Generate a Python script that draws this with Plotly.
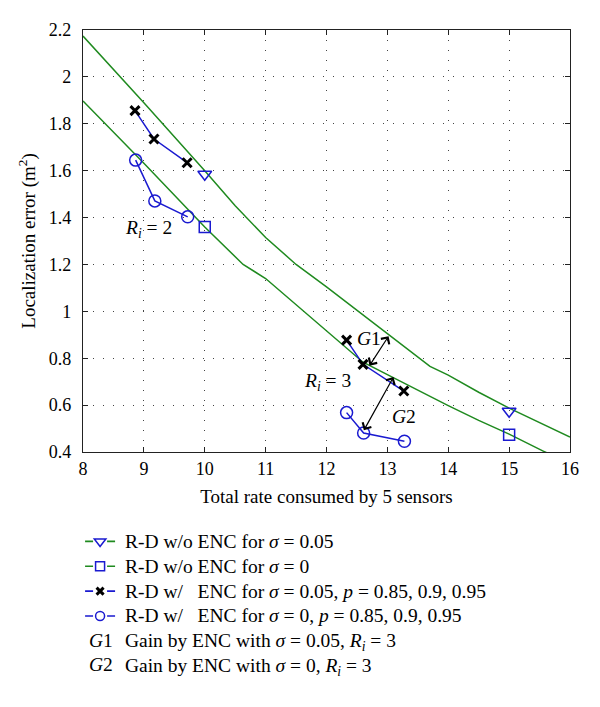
import plotly.graph_objects as go

# Green R-D curves (without ENC)
curve_x = [8, 9, 10, 10.5, 11, 11.5, 12, 12.6, 13, 13.7, 14, 14.5, 15, 15.5, 16]
curve_s005 = [2.174, 1.89, 1.60, 1.45, 1.315, 1.20, 1.104, 0.985, 0.905, 0.765, 0.728, 0.655, 0.587, 0.525, 0.464]
curve0_x = [8, 9, 10, 10.63, 11, 11.62, 12, 12.6, 13, 13.5, 14, 14.5, 15, 15.56, 16]
curve_s0 = [1.897, 1.632, 1.36, 1.2, 1.14, 1.0, 0.915, 0.783, 0.73, 0.663, 0.598, 0.535, 0.476, 0.404, 0.35]

# Marked points on the R-D w/o ENC curves
mark_x = [10, 15]
tri_y = [1.585, 0.574]
sq_y = [1.36, 0.474]

# R-D w/ ENC, sigma = 0.05 (x markers), Ri = 2 and Ri = 3
enc005_r2_x = [8.854, 9.166, 9.71]
enc005_r2_y = [1.856, 1.735, 1.634]
enc005_r3_x = [12.33, 12.6, 13.27]
enc005_r3_y = [0.877, 0.774, 0.66]

# R-D w/ ENC, sigma = 0 (circles)
enc0_r2_x = [8.865, 9.18, 9.72]
enc0_r2_y = [1.645, 1.471, 1.403]
enc0_r3_x = [12.33, 12.61, 13.28]
enc0_r3_y = [0.568, 0.481, 0.446]

x_ticks = [8, 9, 10, 11, 12, 13, 14, 15, 16]
y_ticks = [0.4, 0.6, 0.8, 1, 1.2, 1.4, 1.6, 1.8, 2, 2.2]
y_tick_labels = ["0.4", "0.6", "0.8", "1", "1.2", "1.4", "1.6", "1.8", "2", "2.2"]

GREEN = "#1f8a1f"
BLUE = "#1a1ad0"
FONT = "Liberation Serif"
TXT = 19.5

fig = go.Figure()

# green curves
fig.add_trace(go.Scatter(x=curve_x, y=curve_s005, mode="lines",
                         line=dict(color=GREEN, width=1.5), showlegend=False, hoverinfo="skip"))
fig.add_trace(go.Scatter(x=curve0_x, y=curve_s0, mode="lines",
                         line=dict(color=GREEN, width=1.5), showlegend=False, hoverinfo="skip"))
# markers on curves
fig.add_trace(go.Scatter(x=mark_x, y=tri_y, mode="markers", showlegend=False,
                         marker=dict(symbol="triangle-down-open", size=12, color=BLUE,
                                     line=dict(width=1.5, color=BLUE))))
fig.add_trace(go.Scatter(x=mark_x, y=sq_y, mode="markers", showlegend=False,
                         marker=dict(symbol="square-open", size=11, color=BLUE,
                                     line=dict(width=1.5, color=BLUE))))
# ENC series
for xs, ys in [(enc005_r2_x, enc005_r2_y), (enc005_r3_x, enc005_r3_y)]:
    fig.add_trace(go.Scatter(x=xs, y=ys, mode="lines+markers", showlegend=False,
                             line=dict(color=BLUE, width=1.5),
                             marker=dict(symbol="x-thin-open", size=9, color="black",
                                         line=dict(width=3, color="black"))))
for xs, ys in [(enc0_r2_x, enc0_r2_y), (enc0_r3_x, enc0_r3_y)]:
    fig.add_trace(go.Scatter(x=xs, y=ys, mode="lines+markers", showlegend=False,
                             line=dict(color=BLUE, width=1.5),
                             marker=dict(symbol="circle-open", size=12, color=BLUE,
                                         line=dict(width=1.5, color=BLUE))))


def big(s):
    return '<span style="font-size:%spx"> %s</span>' % (TXT, s)


# legend entries
legend_items = [
    ("R-D w/o ENC for <i>σ</i> = 0.05", GREEN, "triangle-down-open", BLUE, 10, 1.5),
    ("R-D w/o ENC for <i>σ</i> = 0", GREEN, "square-open", BLUE, 9, 1.5),
    ("R-D w/   ENC for <i>σ</i> = 0.05, <i>p</i> = 0.85, 0.9, 0.95", BLUE, "x-thin-open", "black", 7, 3),
    ("R-D w/   ENC for <i>σ</i> = 0, <i>p</i> = 0.85, 0.9, 0.95", BLUE, "circle-open", BLUE, 9, 1.5),
]
for name, lc, sym, mc, ms, mw in legend_items:
    fig.add_trace(go.Scatter(x=[None], y=[None], mode="lines+markers", name=big(name),
                             line=dict(color=lc, width=1.6, dash="8px,14px,8px"),
                             marker=dict(symbol=sym, size=ms, color=mc, line=dict(width=mw, color=mc))))
for name in ["Gain by ENC with <i>σ</i> = 0.05, <i>R<sub>i</sub></i> = 3",
             "Gain by ENC with <i>σ</i> = 0, <i>R<sub>i</sub></i> = 3"]:
    fig.add_trace(go.Scatter(x=[None], y=[None], mode="lines", name=big(name),
                             line=dict(color="rgba(0,0,0,0)", width=0)))

# text annotations in plot
tfont = dict(family=FONT, size=TXT, color="black")
fig.add_annotation(x=9.07, y=1.35, text="<i>R<sub>i</sub></i> = 2", showarrow=False, font=tfont)
fig.add_annotation(x=12.02, y=0.70, text="<i>R<sub>i</sub></i> = 3", showarrow=False, font=tfont)
fig.add_annotation(x=12.69, y=0.884, text="<i>G</i>1", showarrow=False, font=tfont)
fig.add_annotation(x=13.28, y=0.553, text="<i>G</i>2", showarrow=False, font=tfont)
# arrows (double headed)
for (x0, y0, x1, y1) in [(12.69, 0.762, 13.02, 0.894), (12.6, 0.486, 13.1, 0.72)]:
    fig.add_annotation(x=x1, y=y1, ax=x0, ay=y0, xref="x", yref="y", axref="x", ayref="y",
                       text="", showarrow=True, arrowhead=4, startarrowhead=4,
                       arrowside="end+start", arrowwidth=1.2, arrowsize=1.6,
                       startarrowsize=1.6, arrowcolor="black")

# G1 / G2 labels in legend symbol area
fig.add_annotation(xref="paper", yref="paper", x=0.008, y=-0.4455, xanchor="left", yanchor="middle",
                   text="<i>G</i>1", showarrow=False, font=tfont)
fig.add_annotation(xref="paper", yref="paper", x=0.008, y=-0.5047, xanchor="left", yanchor="middle",
                   text="<i>G</i>2", showarrow=False, font=tfont)

axis_common = dict(showline=True, linecolor="#222", linewidth=1.2, mirror="ticks",
                   ticks="inside", ticklen=5, tickcolor="#222",
                   showgrid=True, gridcolor="#444", griddash="1px,9px", gridwidth=1,
                   zeroline=False, tickfont=dict(family=FONT, size=18, color="black"))

fig.update_layout(
    width=600, height=707,
    margin=dict(l=75, r=38, t=22, b=263),
    paper_bgcolor="white", plot_bgcolor="white",
    font=dict(family=FONT, size=17, color="black"),
    xaxis=dict(range=[8, 16], tickvals=x_ticks, ticktext=[str(v) for v in x_ticks],
               title=dict(text="Total rate consumed by 5 sensors", font=dict(family=FONT, size=19), standoff=11),
               **axis_common),
    yaxis=dict(range=[0.4, 2.2], tickvals=y_ticks, ticktext=y_tick_labels, ticklabelstandoff=7,
               title=dict(text="Localization error (m<sup>2</sup>)", font=dict(family=FONT, size=19), standoff=8),
               **axis_common),
    legend=dict(x=-0.006, y=-0.1706, xanchor="left", yanchor="top", bgcolor="rgba(0,0,0,0)",
                font=dict(family=FONT, size=16.8, color="black"), tracegroupgap=0,
                itemwidth=30),
    showlegend=True,
)

fig.write_html("out.html")
